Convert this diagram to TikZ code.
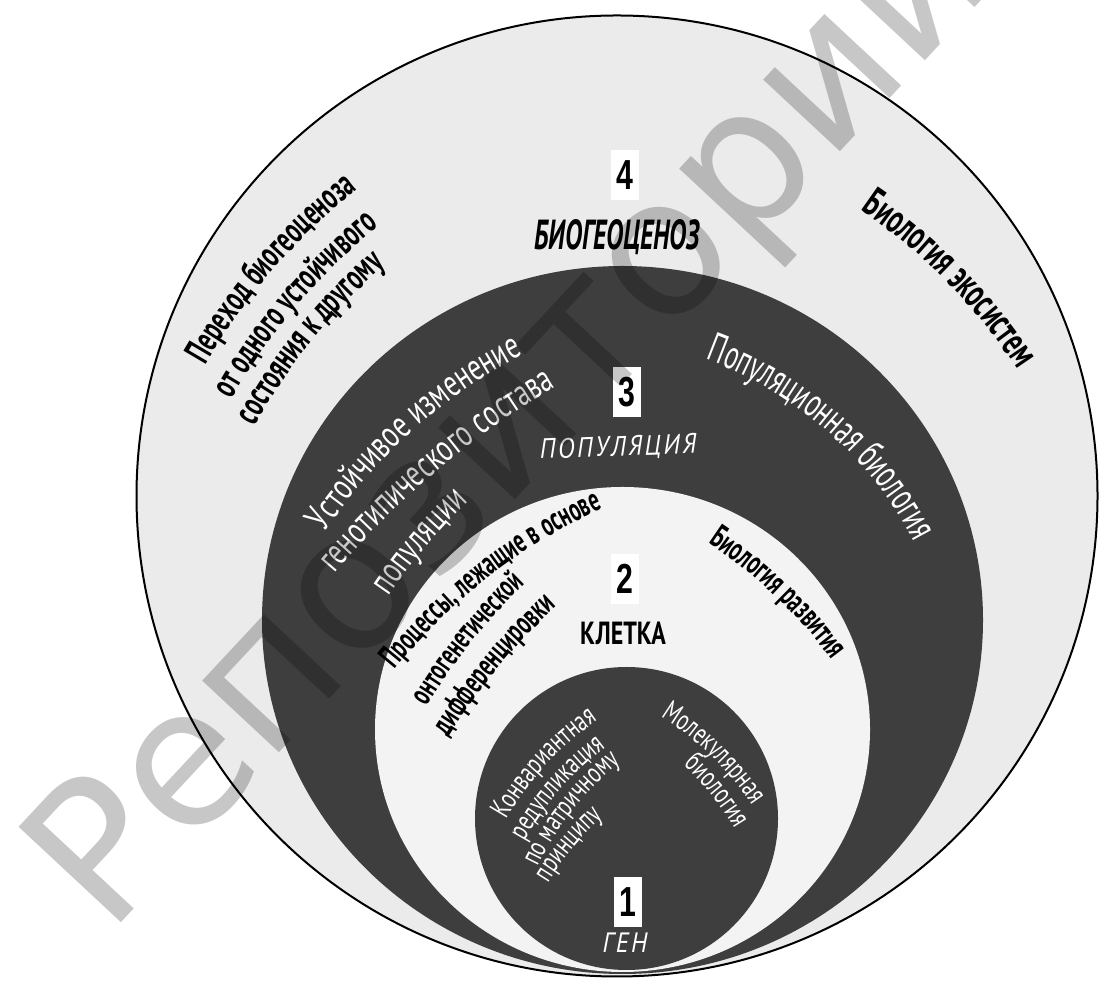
\documentclass[tikz,border=0pt]{standalone}
\usepackage{fontspec}
\usetikzlibrary{decorations.text,shapes.geometric}
\setmainfont{PT Sans}
\newfontfamily\handfont[FakeStretch=0.75]{PT Sans}
\newfontfamily\narrowfont[FakeStretch=0.62]{PT Sans}
\newfontfamily\slimfont[FakeStretch=0.7]{PT Sans}
\newfontfamily\spacedfont[FakeStretch=0.9,LetterSpace=9]{PT Sans}
\newfontfamily\numfont[FakeStretch=0.72]{Liberation Sans}
\newfontfamily\markfont{DejaVu Sans}

\definecolor{paleground}{RGB}{235,235,235}
\definecolor{innerground}{RGB}{243,243,243}
\definecolor{darkband}{RGB}{62,62,62}

% font set-ups for the bent captions
\newcommand\fTransit{\narrowfont\bfseries\fontsize{37}{37}\selectfont\color{black}}
\newcommand\fEco{\narrowfont\bfseries\fontsize{41}{41}\selectfont\color{black}}
\newcommand\fPop{\narrowfont\fontsize{41}{41}\selectfont\color{white}}
\newcommand\fStable{\slimfont\fontsize{38}{38}\selectfont\color{white}}
\newcommand\fStableB{\slimfont\fontsize{38}{38}\selectfont\color{white}}
\newcommand\fOnto{\narrowfont\bfseries\fontsize{33}{33}\selectfont\color{black}}
\newcommand\fOntoB{\narrowfont\bfseries\fontsize{32}{32}\selectfont\color{black}}
\newcommand\fDevel{\narrowfont\bfseries\fontsize{33}{33}\selectfont\color{black}}
\newcommand\fGene{\slimfont\fontsize{29}{29}\selectfont\color{white}}

% caption set along a circular arc: mid point, reading direction, radius, format, text
\newcommand\bendtext[5]{%
  \path[decorate, decoration={text along path, text align=center, text={|#4|#5}}]
    (#1) ++({#2-90}:#3) ++({#2+150}:#3)
    arc[start angle={#2+150}, end angle={#2+30}, radius=#3];}

\tikzset{
  level/.style={ellipse, inner sep=0pt, outer sep=0pt, draw=none},
  numbox/.style={fill=white, minimum width=28, minimum height=50, inner sep=0pt,
    font=\numfont\bfseries\fontsize{42}{42}\selectfont},
}

\begin{document}
\begin{tikzpicture}[x=1pt,y=1pt]
\useasboundingbox (0,0) rectangle (1099,984);
\fill[white] (0,0) rectangle (1099,984);
\begin{scope}
\clip (0,0) rectangle (1099,984);

% nested levels of organisation
\node[level, minimum width=961, minimum height=961, fill=paleground] (c4) at (617,488) {};
\node[level, minimum width=721, minimum height=708, fill=darkband] (c3) at (622.5,364) {};
\node[level, minimum width=495, minimum height=485, fill=innerground] (c2) at (622.5,254.5) {};
\node[level, minimum width=303, minimum height=303, fill=darkband] (c1) at (626.5,165.5) {};
\draw[line width=2] (c4.center) circle[radius=480.5];

% level numbers and names
\node[numbox] (n4) at (625,809) {4};
\node[font=\narrowfont\bfseries\itshape\fontsize{42}{42}\selectfont] (t4) at (617,747) {БИОГЕОЦЕНОЗ};
\node[numbox] (n3) at (627,592) {3};
\node[font=\spacedfont\itshape\fontsize{28}{28}\selectfont, text=white, rotate=2] (t3) at (618,536) {ПОПУЛЯЦИЯ};
\node[numbox] (n2) at (625,405) {2};
\node[font=\handfont\bfseries\fontsize{32}{32}\selectfont] (t2) at (623,351) {КЛЕТКА};
\node[numbox] (n1) at (628,82) {1};
\node[font=\spacedfont\itshape\fontsize{28}{28}\selectfont, text=white] (t1) at (625,41) {ГЕН};

% outer ring
\bendtext{273,714}{49}{600}{\fTransit}{Переход биогеоценоза}
\bendtext{297,678}{49.6}{600}{\fTransit}{от одного устойчивого}
\bendtext{313,644}{51}{600}{\fTransit}{состояния к другому}
\bendtext{947,702}{-45.5}{580}{\fEco}{Биология экосистем}

% population ring
\bendtext{827,553}{-41.2}{385}{\fPop}{Популяционная биология}
\bendtext{413,553}{41.8}{535}{\fStable}{Устойчивое изменение}
\bendtext{437,513}{40.2}{870}{\fStable}{генотипического состава}
\bendtext{426,437}{49.8}{600}{\fStableB}{популяции}

% cell ring
\bendtext{489,407}{37.8}{570}{\fOnto}{Процессы, лежащие в основе}
\bendtext{472,342}{51.3}{600}{\fOntoB}{онтогенетической}
\bendtext{498,316}{50.3}{600}{\fOnto}{дифференцировки}
\bendtext{775,388}{-43.5}{500}{\fDevel}{Биология развития}

% gene core
\bendtext{546,219}{47.3}{300}{\fGene}{Конвариантная}
\bendtext{560,194}{49}{300}{\fGene}{редупликация}
\bendtext{573,174}{51.5}{300}{\fGene}{по матричному}
\bendtext{573,136}{50.4}{300}{\fGene}{принципу}
\bendtext{711,228}{-44}{300}{\fGene}{Молекулярная}
\bendtext{711,189}{-51}{300}{\fGene}{биология}

% repository mark
\node[font=\markfont\fontsize{192}{192}\selectfont, text=black, text opacity=0.22,
  rotate=47, anchor=base west] (wm) at (106,45) {Репозиторий};
\end{scope}
\end{tikzpicture}
\end{document}
